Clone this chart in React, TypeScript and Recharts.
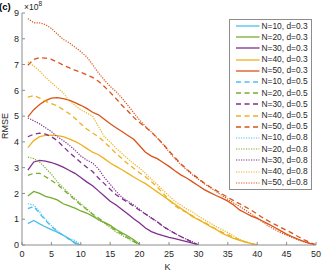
import React from 'react';
import { LineChart, Line, XAxis, YAxis, Legend } from 'recharts';

// ---- data (RMSE in units of 1e8, K = 1..N) ----
const xTicks = [0, 5, 10, 15, 20, 25, 30, 35, 40, 45, 50];
const yTicks = [0, 1, 2, 3, 4, 5, 6, 7, 8, 9];
const nLabels = [10, 20, 30, 40, 50];
const dLabels = [0.3, 0.5, 0.8];

const n10d03 = [0.83, 0.95, 0.82, 0.7, 0.6, 0.5, 0.38, 0.25, 0.06, 0];
const n20d03 = [1.9, 2.08, 2.0, 1.89, 1.83, 1.75, 1.6, 1.52, 1.43, 1.32, 1.24, 1.12, 0.98, 0.88, 0.76, 0.6, 0.47, 0.35, 0.2, 0.03];
const n30d03 = [2.9, 3.22, 3.28, 3.25, 3.2, 3.12, 3.02, 2.9, 2.78, 2.62, 2.45, 2.3, 2.1, 1.9, 1.7, 1.55, 1.38, 1.2, 1.02, 0.85, 0.66, 0.52, 0.43, 0.36, 0.3, 0.25, 0.19, 0.13, 0.07, 0];
const n40d03 = [3.78, 4.05, 4.2, 4.25, 4.26, 4.24, 4.2, 4.12, 4.02, 3.9, 3.75, 3.6, 3.5, 3.35, 3.18, 3.05, 2.92, 2.78, 2.64, 2.5, 2.38, 2.22, 2.06, 1.9, 1.74, 1.58, 1.42, 1.27, 1.1, 0.98, 0.86, 0.72, 0.6, 0.46, 0.35, 0.26, 0.18, 0.11, 0.05, 0];
const n50d03 = [4.97, 5.25, 5.45, 5.6, 5.7, 5.72, 5.68, 5.62, 5.52, 5.42, 5.3, 5.15, 5.05, 4.88, 4.7, 4.55, 4.4, 4.25, 4.1, 3.85, 3.6, 3.45, 3.35, 3.2, 3.05, 2.88, 2.72, 2.6, 2.45, 2.3, 2.15, 2.03, 1.92, 1.82, 1.7, 1.55, 1.36, 1.24, 1.12, 1.03, 0.92, 0.8, 0.68, 0.55, 0.42, 0.32, 0.22, 0.13, 0.06, 0];

const n10d05 = [1.41, 1.5, 1.22, 0.95, 0.72, 0.52, 0.38, 0.22, 0.1, 0];
const n20d05 = [2.7, 2.78, 2.78, 2.65, 2.5, 2.35, 2.15, 1.95, 1.75, 1.55, 1.38, 1.2, 1.05, 0.88, 0.72, 0.56, 0.42, 0.28, 0.14, 0];
const n30d05 = [4.2, 4.3, 4.34, 4.3, 4.2, 4.05, 3.82, 3.6, 3.4, 3.2, 3.02, 2.85, 2.6, 2.38, 2.16, 1.95, 1.8, 1.65, 1.5, 1.35, 1.2, 1.05, 0.9, 0.72, 0.58, 0.45, 0.33, 0.22, 0.1, 0];
const n40d05 = [5.74, 5.8, 5.7, 5.58, 5.48, 5.4, 5.25, 5.1, 4.92, 4.7, 4.5, 4.35, 4.2, 4.0, 3.78, 3.55, 3.35, 3.15, 2.98, 2.8, 2.65, 2.45, 2.25, 2.0, 1.75, 1.52, 1.38, 1.26, 1.13, 1.0, 0.88, 0.75, 0.62, 0.5, 0.4, 0.3, 0.2, 0.12, 0.05, 0];
const n50d05 = [6.97, 7.2, 7.27, 7.25, 7.2, 7.1, 6.98, 6.88, 6.78, 6.7, 6.6, 6.5, 6.35, 6.15, 5.92, 5.68, 5.42, 5.2, 4.95, 4.75, 4.57, 4.38, 4.15, 3.92, 3.65, 3.4, 3.15, 2.95, 2.75, 2.58, 2.4, 2.25, 2.12, 1.98, 1.85, 1.72, 1.6, 1.48, 1.35, 1.2, 1.05, 0.92, 0.8, 0.68, 0.57, 0.45, 0.32, 0.2, 0.1, 0];

const n10d08 = [1.6, 1.55, 1.28, 1.0, 0.75, 0.55, 0.38, 0.25, 0.18, 0];
const n20d08 = [3.41, 3.35, 3.22, 2.98, 2.75, 2.45, 2.22, 2.0, 1.8, 1.6, 1.41, 1.2, 0.98, 0.85, 0.68, 0.5, 0.38, 0.25, 0.12, 0];
const n30d08 = [4.93, 4.82, 4.7, 4.55, 4.4, 4.2, 4.05, 3.88, 3.68, 3.45, 3.3, 3.18, 2.95, 2.62, 2.35, 2.08, 1.85, 1.7, 1.55, 1.38, 1.2, 1.05, 0.9, 0.72, 0.58, 0.45, 0.33, 0.22, 0.12, 0];
const n40d08 = [7.1, 6.95, 6.75, 6.5, 6.3, 6.1, 5.9, 5.6, 5.42, 5.25, 5.12, 5.0, 4.6, 4.2, 4.0, 3.75, 3.55, 3.35, 3.15, 2.98, 2.78, 2.55, 2.35, 2.12, 1.9, 1.7, 1.55, 1.4, 1.28, 1.12, 0.98, 0.85, 0.72, 0.6, 0.48, 0.35, 0.22, 0.13, 0.06, 0];
const n50d08 = [8.78, 8.62, 8.62, 8.55, 8.4, 8.18, 7.98, 7.85, 7.68, 7.5, 7.3, 7.0, 6.68, 6.4, 6.15, 5.95, 5.7, 5.42, 5.13, 4.85, 4.6, 4.38, 4.15, 3.9, 3.62, 3.35, 3.12, 2.92, 2.72, 2.55, 2.38, 2.23, 2.08, 1.92, 1.78, 1.63, 1.5, 1.35, 1.2, 1.05, 0.88, 0.72, 0.6, 0.48, 0.38, 0.28, 0.2, 0.12, 0.05, 0];

// ---- styles ----
const COLORS = ['#4DBEEE', '#77AC30', '#7E2F8E', '#EDB120', '#D95319'];
const DASHES = ['', '5 3.5', '1.2 1.3'];
const WIDTHS = [1.3, 1.3, 1.2];
const AXIS = '#8c8c8c';
const TEXT = '#262626';
const FONT = '"Liberation Sans", Arial, Helvetica, sans-serif';

const valueSets = [
  [n10d03, n20d03, n30d03, n40d03, n50d03],
  [n10d05, n20d05, n30d05, n40d05, n50d05],
  [n10d08, n20d08, n30d08, n40d08, n50d08],
];

const series = valueSets.flatMap((group, di) =>
  group.map((vals, ni) => ({
    name: `N=${nLabels[ni]}, d=${dLabels[di]}`,
    color: COLORS[ni],
    dash: DASHES[di],
    width: WIDTHS[di],
    data: vals.map((v, i) => ({ K: i + 1, v })),
  }))
);

const LeftTick = (props: any) => {
  const { x, y, payload } = props;
  return (
    <g>
      <line x1={x} x2={x + 3} y1={y} y2={y} stroke={AXIS} strokeWidth={1} />
      <text x={x - 3} y={y} dy={3.2} textAnchor="end" fontSize={9} fill={TEXT} fontFamily={FONT}>
        {payload.value}
      </text>
    </g>
  );
};

const BottomTick = (props: any) => {
  const { x, y, payload } = props;
  return (
    <g>
      <line x1={x} x2={x} y1={y} y2={y - 3} stroke={AXIS} strokeWidth={1} />
      <text x={x} y={y + 12.4} textAnchor="middle" fontSize={9} fill={TEXT} fontFamily={FONT}>
        {payload.value}
      </text>
    </g>
  );
};

const TopTick = (props: any) => {
  const { x, y } = props;
  return <line x1={x} x2={x} y1={y} y2={y + 3} stroke={AXIS} strokeWidth={1} />;
};

const RightTick = (props: any) => {
  const { x, y } = props;
  return <line x1={x} x2={x - 3} y1={y} y2={y} stroke={AXIS} strokeWidth={1} />;
};

const yTitle = (props: any) => {
  const vb = props.viewBox;
  const cx = vb.x + 5;
  const cy = vb.y + vb.height / 2 - 3;
  return (
    <text x={cx} y={cy} dy={3.2} transform={`rotate(-90 ${cx} ${cy})`} textAnchor="middle" fontSize={9} fill={TEXT} fontFamily={FONT}>
      RMSE
    </text>
  );
};

const xTitle = (props: any) => {
  const vb = props.viewBox;
  return (
    <text x={vb.x + vb.width / 2 - 1.5} y={vb.y + 24.7} textAnchor="middle" fontSize={9} fill={TEXT} fontFamily={FONT}>
      K
    </text>
  );
};

const LegendBox = () => (
  <div
    style={{
      boxSizing: 'border-box',
      width: 83,
      height: 171,
      border: `1px solid ${AXIS}`,
      background: '#fff',
      paddingTop: 0.5,
      fontFamily: FONT,
      fontSize: 8.4,
      color: TEXT,
    }}
  >
    {series.map((s) => (
      <div key={s.name} style={{ display: 'flex', alignItems: 'center', height: 11.2, paddingLeft: 6, whiteSpace: 'nowrap' }}>
        <svg width={23.5} height={6} style={{ display: 'block', marginRight: 2 }}>
          <line x1={0} x2={23.5} y1={3} y2={3} stroke={s.color} strokeWidth={s.width} strokeDasharray={s.dash || undefined} />
        </svg>
        <span style={{ lineHeight: '11.2px' }}>{s.name}</span>
      </div>
    ))}
  </div>
);

export default function App() {
  return (
    <div style={{ position: 'absolute', left: 0, top: 0, width: 323, height: 271, background: '#fff' }}>
      <LineChart width={323} height={271} margin={{ top: 13, right: 7, bottom: 6, left: 0 }}>
        <XAxis
          dataKey="K"
          type="number"
          domain={[0, 50]}
          ticks={xTicks}
          allowDataOverflow
          height={20}
          tickSize={0}
          tickMargin={0}
          tickLine={false}
          tick={<BottomTick />}
          axisLine={{ stroke: AXIS, strokeWidth: 1 }}
          interval={0}
          label={xTitle}
        />
        <XAxis
          xAxisId="t"
          orientation="top"
          dataKey="K"
          type="number"
          domain={[0, 50]}
          ticks={xTicks}
          allowDataOverflow
          height={0}
          tickSize={0}
          tickMargin={0}
          tickLine={false}
          tick={<TopTick />}
          axisLine={{ stroke: AXIS, strokeWidth: 1 }}
          interval={0}
        />
        <YAxis
          type="number"
          domain={[0, 9]}
          ticks={yTicks}
          allowDataOverflow
          width={22}
          tickSize={0}
          tickMargin={0}
          tickLine={false}
          tick={<LeftTick />}
          axisLine={{ stroke: AXIS, strokeWidth: 1 }}
          interval={0}
          label={yTitle}
        />
        <YAxis
          yAxisId="r"
          orientation="right"
          type="number"
          domain={[0, 9]}
          ticks={yTicks}
          allowDataOverflow
          width={0}
          tickSize={0}
          tickMargin={0}
          tickLine={false}
          tick={<RightTick />}
          axisLine={{ stroke: AXIS, strokeWidth: 1 }}
          interval={0}
        />
        {series.map((s) => (
          <Line
            key={s.name}
            name={s.name}
            data={s.data}
            dataKey="v"
            type="linear"
            stroke={s.color}
            strokeWidth={s.width}
            strokeDasharray={s.dash || undefined}
            dot={false}
            activeDot={false}
            isAnimationActive={false}
          />
        ))}
        <Legend
          layout="horizontal"
          verticalAlign="middle"
          align="center"
          content={() => <LegendBox />}
          wrapperStyle={{ left: 229, top: 19, width: 83, height: 171 }}
        />
      </LineChart>
      <div style={{ position: 'absolute', left: -1, top: 1, fontFamily: FONT, fontSize: 9.5, fontWeight: 'bold', lineHeight: '11px', color: '#000' }}>
        (c)
      </div>
      <div style={{ position: 'absolute', left: 24, top: 2, fontFamily: FONT, fontSize: 8.5, lineHeight: '10px', color: TEXT, whiteSpace: 'nowrap' }}>
        ×10<span style={{ fontSize: 6.5, position: 'relative', top: -4.5 }}>8</span>
      </div>
    </div>
  );
}
